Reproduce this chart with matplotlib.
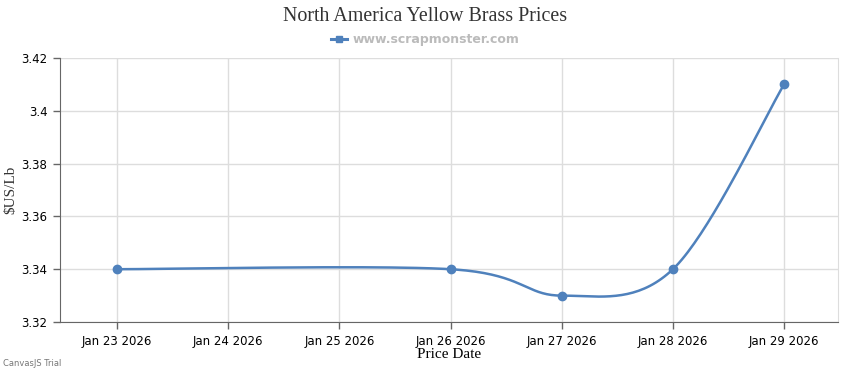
import numpy as np
import matplotlib.pyplot as plt
import matplotlib.dates as mdates
from matplotlib.lines import Line2D
import datetime as dt

# data
dates = ["2026-01-23", "2026-01-26", "2026-01-27", "2026-01-28", "2026-01-29"]
prices = [3.34, 3.34, 3.33, 3.34, 3.41]
tickDates = ["2026-01-23", "2026-01-24", "2026-01-25", "2026-01-26",
             "2026-01-27", "2026-01-28", "2026-01-29"]
yTicks = [3.32, 3.34, 3.36, 3.38, 3.40, 3.42]
yLabels = ["3.32", "3.34", "3.36", "3.38", "3.4", "3.42"]

lineColor = "#4f81bc"
gridColor = "#dddddd"


def spline(xs, ys, n=40):
    # catmull-rom style bezier through the points, like a canvas spline
    xs = np.asarray(xs, float)
    ys = np.asarray(ys, float)
    px = np.concatenate([[xs[0]], xs, [xs[-1]]])
    py = np.concatenate([[ys[0]], ys, [ys[-1]]])
    outX, outY = [], []
    t = np.linspace(0, 1, n)
    for i in range(1, len(px) - 2):
        x0, y0 = px[i], py[i]
        x3, y3 = px[i + 1], py[i + 1]
        x1 = x0 + (px[i + 1] - px[i - 1]) / 6
        y1 = y0 + (py[i + 1] - py[i - 1]) / 6
        x2 = x3 - (px[i + 2] - px[i]) / 6
        y2 = y3 - (py[i + 2] - py[i]) / 6
        bx = (1 - t) ** 3 * x0 + 3 * (1 - t) ** 2 * t * x1 + 3 * (1 - t) * t ** 2 * x2 + t ** 3 * x3
        by = (1 - t) ** 3 * y0 + 3 * (1 - t) ** 2 * t * y1 + 3 * (1 - t) * t ** 2 * y2 + t ** 3 * y3
        outX.extend(bx)
        outY.extend(by)
    return np.array(outX), np.array(outY)


x = mdates.date2num([dt.datetime.strptime(d, "%Y-%m-%d") for d in dates])
xt = mdates.date2num([dt.datetime.strptime(d, "%Y-%m-%d") for d in tickDates])

fig = plt.figure(figsize=(8.5, 3.7), dpi=100)
ax = fig.add_axes([0.0706, 0.1297, 0.9154, 0.7135])

sx, sy = spline(x, prices)
ax.plot(sx, sy, color=lineColor, linewidth=1.8, zorder=3)
ax.plot(x, prices, "o", color=lineColor, markersize=6, zorder=4)

ax.set_xlim(xt[0] - 0.513, xt[-1] + 0.486)
ax.set_ylim(3.32, 3.42)
ax.set_xticks(xt)
ax.set_xticklabels([dt.datetime.strptime(d, "%Y-%m-%d").strftime("%b %d %Y") for d in tickDates],
                   fontfamily="DejaVu Sans", fontsize=8.5)
ax.set_yticks(yTicks)
ax.set_yticklabels(yLabels, fontfamily="DejaVu Sans", fontsize=8.5)
ax.grid(True, color=gridColor, linewidth=1)
ax.set_axisbelow(True)
ax.tick_params(axis="both", length=5, color="#666666", width=1, pad=4)

ax.spines["top"].set_visible(False)
ax.spines["right"].set_color(gridColor)
ax.spines["left"].set_color("#666666")
ax.spines["bottom"].set_color("#666666")

ax.set_xlabel("Price Date", fontfamily="Liberation Serif", fontsize=11, labelpad=0)
ax.set_ylabel("$US/Lb", fontfamily="Liberation Serif", fontsize=11, labelpad=3, color="#333333")

fig.text(0.5, 0.955, "North America Yellow Brass Prices", ha="center", va="center",
         fontfamily="Liberation Serif", fontsize=14.4, color="#333333")

handle = Line2D([0], [0], color=lineColor, linewidth=2.2, marker="s", markersize=4.5)
fig.legend([handle], ["www.scrapmonster.com"], loc="center", bbox_to_anchor=(0.5, 0.893),
           frameon=False, handlelength=1.3, handletextpad=0.4,
           prop={"family": "DejaVu Sans", "weight": "bold", "size": 9}, labelcolor="#bbbbbb")

fig.text(0.003, 0.012, "CanvasJS Trial", fontfamily="DejaVu Sans", fontsize=6, color="#777777")

plt.savefig("out.png", dpi=100)
